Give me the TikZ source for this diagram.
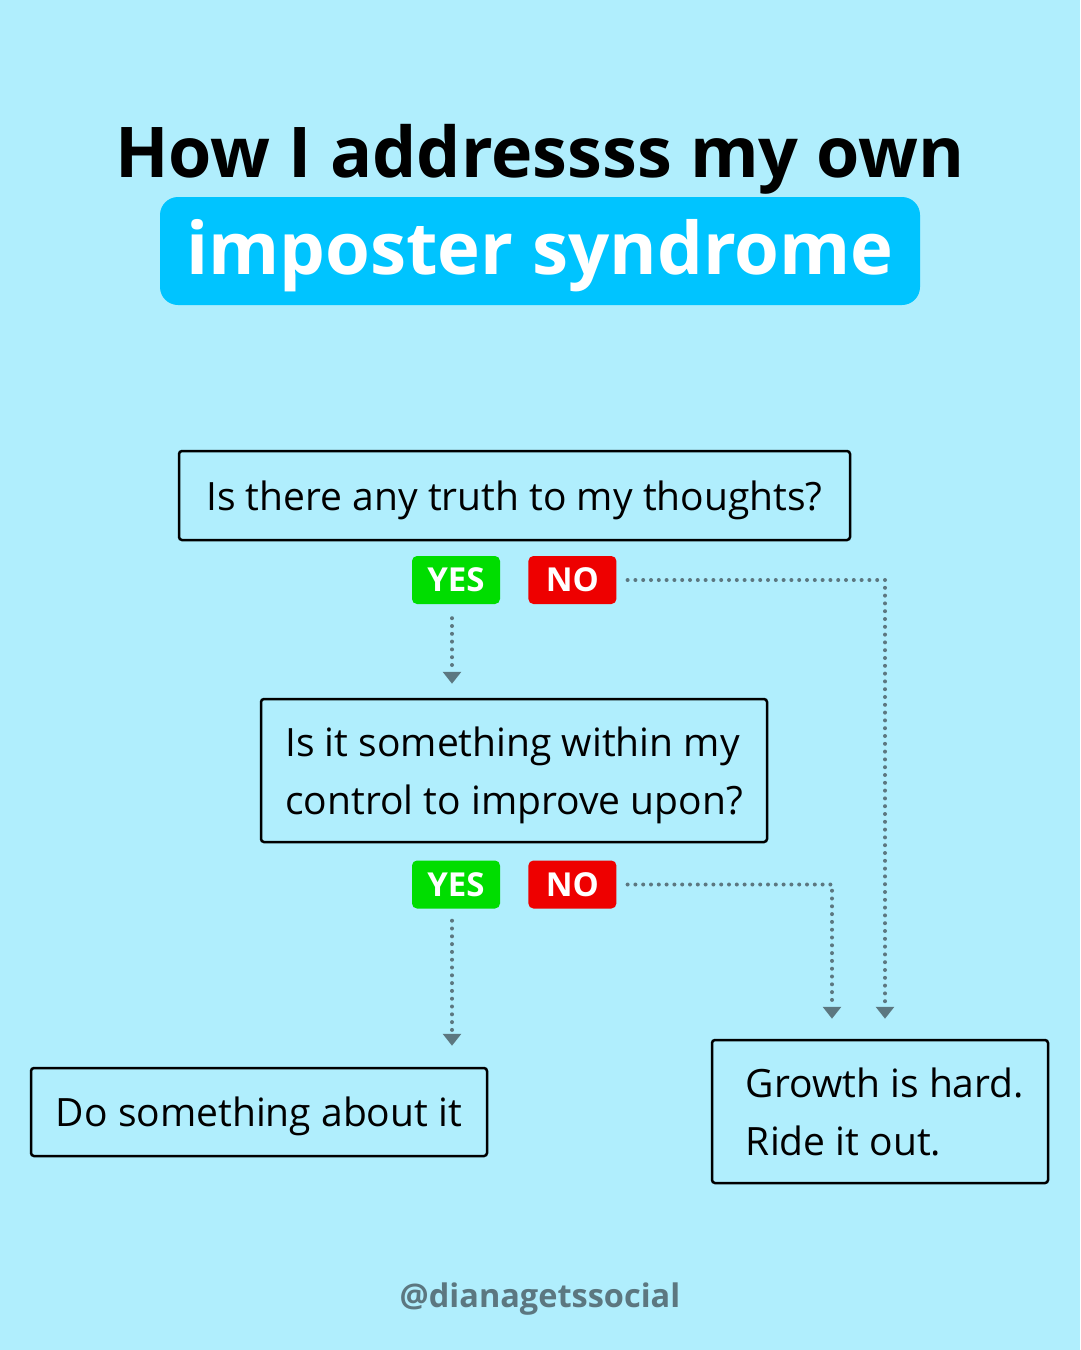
\documentclass[tikz,border=0pt]{standalone}
\usepackage{fontspec}
\setmainfont{Open Sans}
\usetikzlibrary{arrows.meta, positioning, calc}
\definecolor{skybg}{HTML}{B0EEFD}
\definecolor{titleblue}{HTML}{00C4FF}
\definecolor{yesgreen}{HTML}{00DD00}
\definecolor{nored}{HTML}{EE0000}
\definecolor{dotgray}{HTML}{5C7780}
\tikzstyle{qbox} = [rectangle, draw=black, line width=2.5pt, rounded corners=3pt, align=left, font=\fontsize{39}{58}\selectfont, inner sep=0pt, text depth=0pt]
\tikzstyle{badge} = [rectangle, rounded corners=5pt, minimum width=88pt, minimum height=48pt, inner sep=0pt, text=white, font=\fontsize{33}{33}\selectfont\bfseries]
\tikzstyle{flow} = [line width=4pt, dotgray, dash pattern=on 0pt off 7.8pt, line cap=round, -{Triangle[width=18pt,length=12pt]}]

\begin{document}
\begin{tikzpicture}[x=1pt, y=-1pt]
\fill[skybg] (0,0) rectangle (1080,1350);
\useasboundingbox (0,0) rectangle (1080,1350);

% Title
\node (title) at (540,159) [font=\fontsize{70}{80}\selectfont\bfseries] {How I addressss my own};
\node (subtitle) at (540,251) [fill=titleblue, rounded corners=18pt, minimum width=760pt, minimum height=108pt, text depth=9pt, text=white, font=\fontsize{72.5}{80}\selectfont\bfseries] {imposter syndrome};

% Nodes
\node (q1) at (514.5,495.5) [qbox, minimum width=671pt, minimum height=89pt] {Is there any truth to my thoughts?};
\node (yes1) at (456,580) [badge, fill=yesgreen] {YES};
\node (no1) [badge, fill=nored, right=28pt of yes1] {NO};
\node (q2) at (514,770.5) [qbox, minimum width=506pt, minimum height=143pt] {Is it something within my\\control to improve upon?};
\node (yes2) at (456,884.5) [badge, fill=yesgreen] {YES};
\node (no2) [badge, fill=nored, right=28pt of yes2] {NO};
\node (q3) at (259,1112) [qbox, minimum width=456pt, minimum height=88pt] {Do something about it};
\node (q4) at (880,1111.5) [qbox, minimum width=336pt, minimum height=143pt] {\hspace*{10pt}Growth is hard.\\\hspace*{10pt}Ride it out.};

% Arrows
\coordinate (yes1out) at ($(yes1.south)+(-4,0)$);
\coordinate (yes2out) at ($(yes2.south)+(-4,0)$);
\coordinate (q4inA) at ($(q4.north)+(-48,0)$);
\coordinate (q4inB) at ($(q4.north)+(5,0)$);
\draw [flow, shorten <=14pt, shorten >=14pt] (yes1out) -- (yes1out |- q2.north);
\draw [flow, shorten <=11pt, shorten >=20pt] (no1.east) -| (q4inB);
\draw [flow, shorten <=12pt, shorten >=21pt] (yes2out) -- (yes2out |- q3.north);
\draw [flow, shorten <=11pt, shorten >=20pt] (no2.east) -| (q4inA);

% Footer
\node (handle) at (540,1299) [text=dotgray, font=\fontsize{32.5}{33}\selectfont\bfseries] {@dianagetssocial};

\end{tikzpicture}
\end{document}
